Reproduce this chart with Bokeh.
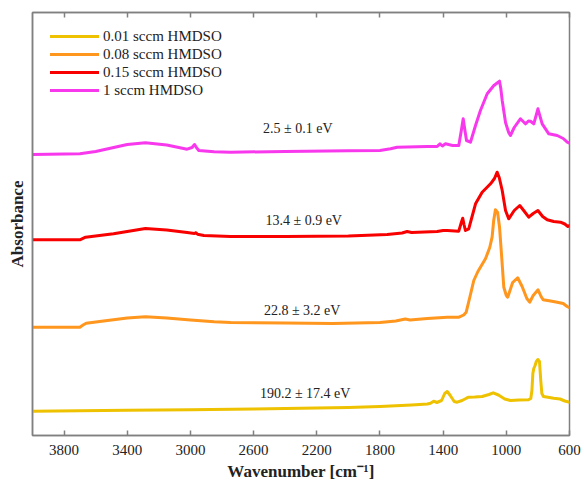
from bokeh.plotting import figure
from bokeh.models import (Range1d, FixedTicker, LinearAxis, Legend, LegendItem, ColumnDataSource,
                          CustomLabelingPolicy)
from bokeh.core.properties import value
from bokeh.embed import file_html
from bokeh.resources import INLINE

# ---- data (absorbance, arbitrary units, spectra stacked) ----
labels = ["0.01 sccm HMDSO", "0.08 sccm HMDSO", "0.15 sccm HMDSO", "1 sccm HMDSO"]
colors = ["#EEC200", "#FF961E", "#F80000", "#F838EC"]

wn_001 = [4000, 3700, 3400, 3000, 2600, 2300, 2000, 1800, 1600, 1500, 1480, 1460, 1440, 1410, 1390,
          1374, 1355, 1330, 1311, 1280, 1250, 1238, 1200, 1153, 1110, 1083, 1050, 1010, 974, 920,
          860, 845, 838, 832, 826, 818, 810, 800, 790, 782, 775, 765, 700, 660, 630, 600]
ab_001 = [0.243, 0.247, 0.252, 0.258, 0.265, 0.273, 0.28, 0.29, 0.305, 0.315, 0.323, 0.343, 0.33, 0.35, 0.42,
          0.44, 0.40, 0.34, 0.333, 0.35, 0.375, 0.383, 0.385, 0.39, 0.41, 0.427, 0.405, 0.365, 0.35, 0.355,
          0.357, 0.37, 0.45, 0.62, 0.67, 0.70, 0.74, 0.76, 0.74, 0.55, 0.42, 0.39, 0.373, 0.365, 0.345, 0.333]

wn_008 = [4000, 3800, 3700, 3680, 3660, 3550, 3400, 3285, 3150, 3000, 2850, 2746, 2400, 2100, 1800,
          1700, 1640, 1610, 1500, 1374, 1300, 1270, 1254, 1230, 1206, 1180, 1164, 1132, 1105, 1090,
          1080, 1069, 1055, 1043, 1030, 1016, 1000, 991, 960, 928, 900, 870, 852, 830, 799, 780,
          767, 720, 678, 640, 615, 600]
ab_008 = [1.083, 1.083, 1.083, 1.105, 1.123, 1.145, 1.175, 1.187, 1.175, 1.155, 1.137, 1.13, 1.125, 1.12, 1.13,
          1.145, 1.165, 1.155, 1.17, 1.183, 1.183, 1.205, 1.233, 1.39, 1.55, 1.64, 1.683, 1.767, 1.88, 1.983,
          2.15, 2.257, 2.23, 2.083, 1.80, 1.483, 1.40, 1.383, 1.53, 1.577, 1.49, 1.37, 1.333, 1.40, 1.457, 1.39,
          1.357, 1.345, 1.333, 1.32, 1.29, 1.277]

wn_015 = [4000, 3700, 3664, 3487, 3285, 3150, 3021, 2975, 2965, 2955, 2915, 2746, 2400, 2000, 1754,
          1660, 1628, 1600, 1438, 1400, 1374, 1301, 1285, 1276, 1268, 1259, 1238, 1215, 1195, 1153,
          1100, 1075, 1058, 1045, 1026, 1005, 985, 950, 915, 890, 858, 830, 800, 770, 741, 700,
          657, 630, 610, 600]
ab_015 = [1.957, 1.957, 1.983, 2.017, 2.07, 2.055, 2.03, 2.02, 2.028, 2.012, 2.0, 1.99, 1.99, 1.995, 2.01,
          2.025, 2.04, 2.03, 2.04, 2.05, 2.05, 2.043, 2.13, 2.173, 2.11, 2.05, 2.067, 2.20, 2.317, 2.433,
          2.517, 2.57, 2.633, 2.58, 2.45, 2.25, 2.167, 2.25, 2.30, 2.25, 2.183, 2.22, 2.25, 2.19, 2.157, 2.14,
          2.133, 2.115, 2.09, 2.10]

wn_1 = [4000, 3700, 3600, 3500, 3400, 3285, 3150, 3021, 2990, 2974, 2960, 2947, 2850, 2746, 2400,
        2000, 1800, 1733, 1691, 1500, 1438, 1420, 1405, 1385, 1340, 1301, 1285, 1273, 1262, 1252,
        1227, 1195, 1164, 1121, 1079, 1043, 1035, 1026, 1005, 985, 974, 950, 911, 879, 860, 847,
        826, 800, 773, 731, 678, 640, 614, 600]
ab_1 = [2.81, 2.817, 2.84, 2.875, 2.91, 2.927, 2.905, 2.863, 2.88, 2.91, 2.875, 2.85, 2.838, 2.833, 2.84,
        2.847, 2.85, 2.867, 2.883, 2.89, 2.89, 2.917, 2.895, 2.917, 2.90, 2.90, 3.05, 3.167, 3.05, 2.95,
        2.933, 3.10, 3.25, 3.417, 3.50, 3.543, 3.47, 3.35, 3.13, 3.03, 3.00, 3.08, 3.167, 3.117, 3.145, 3.143,
        3.117, 3.267, 3.117, 3.017, 3.00, 2.97, 2.933, 2.923]

wavenumbers = [wn_001, wn_008, wn_015, wn_1]
absorbances = [ab_001, ab_008, ab_015, ab_1]

ann_text = ["190.2 \u00b1 17.4 eV", "22.8 \u00b1 3.2 eV", "13.4 \u00b1 0.9 eV", "2.5 \u00b1 0.1 eV"]
ann_x = [2560, 2535, 2525, 2540]
ann_y = [0.42, 1.25, 2.15, 3.067]

x_ticks = [3800, 3400, 3000, 2600, 2200, 1800, 1400, 1000, 600]

FONT = "'Liberation Serif'"
FONT2 = "serif"
AX = "#808080"
TXT = "#222222"

p = figure(width=584, height=489, output_backend="svg", toolbar_location=None,
           x_range=Range1d(4000, 600), y_range=Range1d(0, 4.23),
           min_border_left=32, min_border_right=15, min_border_top=12, min_border_bottom=54)
p.xaxis.visible = False
p.yaxis.visible = False
p.grid.visible = False
p.outline_line_color = AX
p.outline_line_width = 1.5
p.background_fill_color = "white"
p.border_fill_color = "white"

items = []
for wn, ab, c, lab in zip(wavenumbers, absorbances, colors, labels):
    r = p.line(wn, ab, line_color=c, line_width=3, line_join="round", line_cap="round")
    items.append(LegendItem(label=lab, renderers=[r]))

src = ColumnDataSource(dict(x=ann_x, y=ann_y, t=ann_text))
p.text(x="x", y="y", text="t", source=src, text_font=value(FONT), text_font_size="14px",
       text_align="left", text_baseline="middle", text_color=TXT)

# bottom axis
xa = LinearAxis(ticker=FixedTicker(ticks=x_ticks), axis_label="Wavenumber [cm\u207b\u00b9]")
xa.axis_line_color = AX
xa.axis_line_width = 1.5
xa.major_tick_line_color = AX
xa.major_tick_line_width = 1.5
xa.major_tick_in = 5
xa.major_tick_out = 0
xa.minor_tick_line_color = None
xa.major_label_text_font = FONT2
xa.major_label_text_font_size = "15px"
xa.major_label_text_color = TXT
xa.major_label_standoff = 9
xa.axis_label_text_font = FONT2
xa.axis_label_text_font_size = "17px"
xa.axis_label_text_font_style = "bold"
xa.axis_label_text_color = TXT
xa.axis_label_standoff = 4
p.add_layout(xa, "below")

# top axis: ticks only, no labels
ta = LinearAxis(ticker=FixedTicker(ticks=x_ticks))
ta.axis_line_color = AX
ta.axis_line_width = 1.5
ta.major_tick_line_color = AX
ta.major_tick_line_width = 1.5
ta.major_tick_in = 5
ta.major_tick_out = 0
ta.minor_tick_line_color = None
ta.major_label_standoff = 0
ta.major_label_text_font_size = "1px"
ta.major_label_policy = CustomLabelingPolicy(
    code="for (const i of [...indices]) { indices.unset(i) } return indices")
p.add_layout(ta, "above")

# left axis (label only)
ya = LinearAxis(ticker=FixedTicker(ticks=[]), axis_label="Absorbance")
ya.axis_line_color = AX
ya.axis_line_width = 1.5
ya.major_tick_line_color = None
ya.minor_tick_line_color = None
ya.axis_label_text_font = FONT2
ya.axis_label_text_font_size = "17px"
ya.axis_label_text_font_style = "bold"
ya.axis_label_text_color = TXT
ya.axis_label_standoff = 6
p.add_layout(ya, "left")

leg = Legend(items=items, location=(18, 336))
leg.margin = 0
leg.padding = 0
leg.border_line_color = None
leg.background_fill_alpha = 0
leg.glyph_width = 49
leg.glyph_height = 18
leg.label_height = 18
leg.spacing = 0
leg.label_standoff = 4
leg.label_text_font = FONT2
leg.label_text_font_size = "15px"
leg.label_text_color = TXT
p.add_layout(leg, "center")

open("out.html", "w").write(file_html(p, INLINE))
